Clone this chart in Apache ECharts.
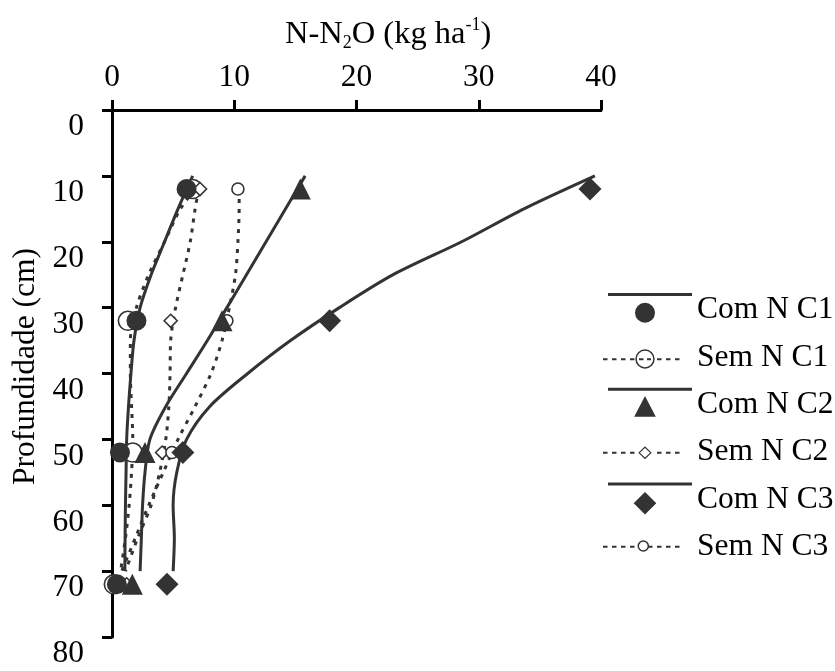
<!DOCTYPE html>
<html>
<head>
<meta charset="utf-8">
<script src="https://cdn.jsdelivr.net/npm/echarts@6/dist/echarts.min.js"></script>
<style>html,body{margin:0;padding:0;background:#fff;}#c{width:835px;height:671px;}</style>
</head>
<body>
<div id="c"></div>
<script>
// ---- data ----
const seriesNames = ['Com N C1', 'Sem N C1', 'Com N C2', 'Sem N C2', 'Com N C3', 'Sem N C3'];
const markerDepths = [12, 32, 52, 72];
const comNC1Pts = [6.1, 2.0, 0.65, 0.4];
const semNC1Pts = [6.6, 1.3, 1.7, 0.15];
const comNC2Pts = [15.4, 9.0, 2.7, 1.66];
const semNC2Pts = [7.2, 4.8, 4.1, 1.2];
const comNC3Pts = [39.1, 17.8, 5.8, 4.5];
const semNC3Pts = [10.3, 9.4, 4.9, 0.6];

const solidDepths = [10, 15, 20, 25, 30, 35, 40, 45, 50, 55, 60, 65, 70];
const comNC1Fit = [6.6, 5.4, 4.3, 3.2, 2.3, 1.8, 1.55, 1.35, 1.2, 1.15, 1.1, 1.07, 1.05];
const comNC2Fit = [15.8, 14.2, 12.6, 11.0, 9.4, 7.8, 6.1, 4.4, 3.1, 2.7, 2.5, 2.4, 2.3];
const comNC3Fit = [39.5, 33.7, 28.6, 23.0, 18.6, 14.6, 11.1, 8.0, 6.1, 5.3, 5.0, 5.1, 5.0];

const dottedDepths = [12, 15, 20, 25, 30, 35, 40, 45, 50, 55, 60, 65, 70];
const semNC1Fit = [6.8, 5.6, 4.3, 3.0, 2.0, 1.5, 1.5, 1.6, 1.7, 1.6, 1.4, 1.1, 0.7];
const semNC2Fit = [7.1, 6.8, 6.4, 5.8, 5.2, 4.8, 4.75, 4.65, 4.4, 3.9, 3.2, 2.1, 1.1];
const semNC3Fit = [10.4, 10.4, 10.3, 10.1, 9.6, 9.0, 8.1, 6.8, 5.4, 4.2, 3.0, 1.9, 0.8];

const xTickValues = [0, 10, 20, 30, 40];
const yTickValues = [0, 10, 20, 30, 40, 50, 60, 70, 80];
const xTitle = 'N-N2O (kg ha-1)';
const yTitle = 'Profundidade (cm)';

// ---- styling ----
const FONT = 'Liberation Serif';
const FS = 31.5;
const INK = '#333333';

function pairs(xs, ys) { return xs.map((v, i) => [v, ys[i]]); }

const ANCH = 'M0 0h0.02v0.02h-0.02Z M88.98 33.98h0.02v0.02h-0.02Z ';
function rect(x1, y1, x2, y2) { return 'M' + x1 + ' ' + y1 + 'H' + x2 + 'V' + y2 + 'H' + x1 + 'Z '; }
function circ(cx, cy, r, cw) {
  const s = cw ? 1 : 0;
  return 'M' + (cx - r) + ' ' + cy + 'A' + r + ' ' + r + ' 0 1 ' + s + ' ' + (cx + r) + ' ' + cy +
         'A' + r + ' ' + r + ' 0 1 ' + s + ' ' + (cx - r) + ' ' + cy + 'Z ';
}
function dashes(list, yc) { return list.map(d => rect(d[0], yc - 1, d[1], yc + 1)).join(''); }
const leftD = [[0, 4.5], [9, 13.5], [18, 22.5], [27, 31.5]];
const rightD = [[54, 58.5], [63, 67.5], [72, 76.5]];

const icons = [
  ANCH + rect(5, 0, 89, 3) + circ(42, 19.7, 10, true),
  ANCH + dashes(leftD.concat(rightD, [[36, 40.5], [44, 48]]), 18.9) + circ(42, 18.6, 9.7, true) + circ(42, 18.6, 8.2, false),
  ANCH + rect(5, 0, 89, 3) + 'M42 8.2L52.8 28.9H31.2Z ',
  ANCH + dashes(leftD.concat(rightD), 17.5) + 'M42 11L48.7 17.5L42 24L35.3 17.5Z M42 12.7L36.9 17.5L42 22.3L47.1 17.5Z ',
  ANCH + rect(5, 0, 89, 3) + 'M42 9.4L53.3 20.7L42 32L30.7 20.7Z ',
  ANCH + dashes(leftD.concat(rightD, [[45, 49.5]]), 16.7) + circ(40.3, 16, 5.8, true) + circ(40.3, 16, 4.3, false)
];

const fitLine = (name, xs, ys, dotted) => ({
  name: name, type: 'line', data: pairs(xs, ys), smooth: 0.3, symbol: 'none', z: 2,
  silent: true, animation: false, clip: false,
  lineStyle: { color: INK, width: 3, type: dotted ? [4, 6] : 'solid', cap: 'butt' }
});
const marks = (name, xs, symbol, size, filled, z) => ({
  name: name, type: 'scatter', data: pairs(xs, markerDepths), symbol: symbol, symbolSize: size,
  z: z, silent: true, animation: false, clip: false,
  itemStyle: filled ? { color: INK, opacity: 1 } : { color: '#fff', borderColor: INK, borderWidth: 1.6, opacity: 1 }
});

const option = {
  backgroundColor: '#fff',
  animation: false,
  title: {
    text: '{a|N-N}{b|2}{a|O (kg ha}{c|-1}{a|)}',
    left: 285, top: 16, padding: 0,
    textStyle: {
      fontWeight: 'normal', fontFamily: FONT,
      rich: {
        a: { fontFamily: FONT, fontWeight: 'normal', fontSize: 32.5, lineHeight: 36, color: '#000' },
        b: { fontFamily: FONT, fontWeight: 'normal', fontSize: 18, lineHeight: 18, verticalAlign: 'bottom', color: '#000' },
        c: { fontFamily: FONT, fontWeight: 'normal', fontSize: 18, lineHeight: 18, verticalAlign: 'top', color: '#000' }
      }
    }
  },
  grid: { left: 112, top: 110, width: 489, height: 533, containLabel: false },
  xAxis: {
    type: 'value', position: 'top', min: xTickValues[0], max: xTickValues[xTickValues.length - 1], interval: 10,
    axisLine: { show: true, onZero: false, lineStyle: { color: '#000', width: 3 } },
    axisTick: { show: true, inside: false, length: 10, lineStyle: { color: '#000', width: 3 } },
    splitLine: { show: false },
    axisLabel: { fontFamily: FONT, fontSize: FS, color: '#000', margin: 16 }
  },
  yAxis: {
    type: 'value', inverse: true, min: yTickValues[0], max: yTickValues[yTickValues.length - 1], interval: 10,
    name: yTitle, nameLocation: 'middle', nameGap: 70, nameRotate: 90,
    nameTextStyle: { fontFamily: FONT, fontSize: FS, color: '#000', padding: [0, 0, 0, 14] },
    axisLine: { show: true, onZero: false, lineStyle: { color: '#000', width: 3 } },
    axisTick: { show: true, inside: false, length: 10, lineStyle: { color: '#000', width: 3 } },
    splitLine: { show: false },
    axisLabel: { fontFamily: FONT, fontSize: FS, color: '#000', margin: 28, verticalAlign: 'top', lineHeight: 34 }
  },
  legend: {
    orient: 'vertical', left: 603, top: 293, padding: 0,
    itemWidth: 89, itemHeight: 34, itemGap: 13.4, symbolKeepAspect: false, selectedMode: false,
    textStyle: { fontFamily: FONT, fontSize: FS, color: '#000' },
    data: seriesNames.map((n, i) => ({ name: n, icon: 'path://' + icons[i], itemStyle: { color: INK, borderWidth: 0, opacity: 1 } }))
  },
  series: [
    fitLine(seriesNames[0], comNC1Fit, solidDepths, false),
    fitLine(seriesNames[1], semNC1Fit, dottedDepths, true),
    fitLine(seriesNames[2], comNC2Fit, solidDepths, false),
    fitLine(seriesNames[3], semNC2Fit, dottedDepths, true),
    fitLine(seriesNames[4], comNC3Fit, solidDepths, false),
    fitLine(seriesNames[5], semNC3Fit, dottedDepths, true),
    marks(seriesNames[1], semNC1Pts, 'circle', 19, false, 3),
    marks(seriesNames[3], semNC2Pts, 'diamond', 13, false, 3),
    marks(seriesNames[5], semNC3Pts, 'circle', 12, false, 3),
    marks(seriesNames[0], comNC1Pts, 'circle', 20, true, 4),
    marks(seriesNames[2], comNC2Pts, 'triangle', [21, 21], true, 4),
    marks(seriesNames[4], comNC3Pts, 'diamond', 23, true, 4)
  ]
};
const chart = echarts.init(document.getElementById('c'), null, { renderer: 'canvas' });
chart.setOption(option);
</script>
</body>
</html>
